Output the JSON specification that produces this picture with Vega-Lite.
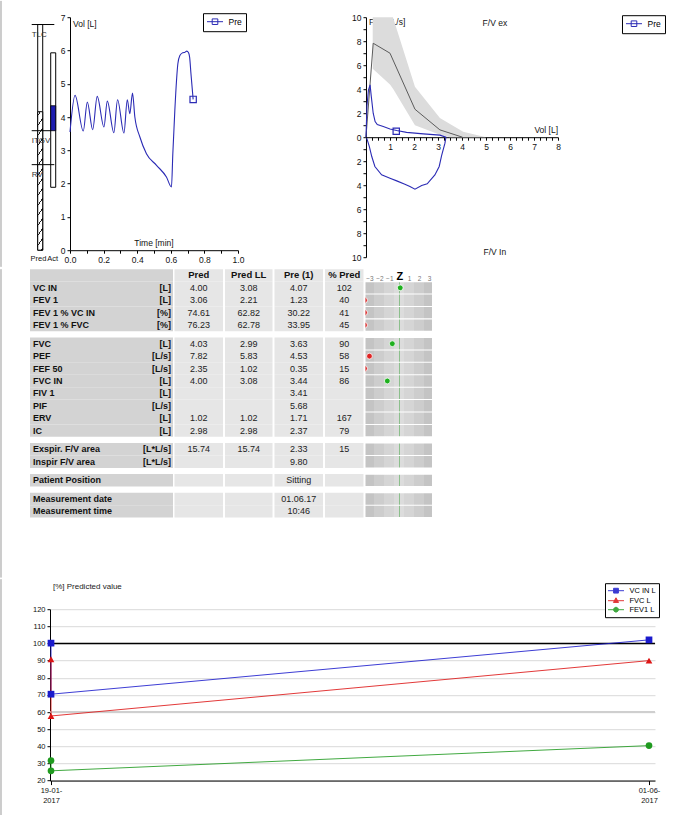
{
"$schema": "https://vega.github.io/schema/vega-lite/v6.json",
"background": "white",
"padding": {"left": 0, "top": 0.2, "right": 5, "bottom": 0},
"config": {
  "font": "Liberation Sans",
  "view": {"stroke": null},
  "axis": {"labelFont": "Liberation Sans", "labelFontSize": 8, "labelColor": "#111", "domainColor": "#000", "tickColor": "#000", "tickSize": 3, "labelPadding": 2, "grid": false, "title": null, "labelFlush": false, "labelOverlap": false},
  "legend": {"labelFont": "Liberation Sans", "labelLimit": 200},
  "text": {"font": "Liberation Sans"}
},
"datasets": {
  "vt": [{"t":0,"v":3.55},{"t":0.03,"v":4.65},{"t":0.079,"v":3.58},{"t":0.103,"v":4.45},{"t":0.135,"v":3.62},{"t":0.162,"v":4.62},{"t":0.202,"v":3.7},{"t":0.222,"v":4.48},{"t":0.261,"v":3.53},{"t":0.283,"v":4.52},{"t":0.321,"v":3.52},{"t":0.341,"v":4.52},{"t":0.356,"v":4.1},{"t":0.372,"v":4.72},{"t":0.386,"v":4.0},{"t":0.416,"v":3.4},{"t":0.455,"v":2.9},{"t":0.515,"v":2.55},{"t":0.574,"v":2.2},{"t":0.604,"v":1.9},{"t":0.612,"v":2.9},{"t":0.624,"v":4.2},{"t":0.634,"v":5.1},{"t":0.642,"v":5.6},{"t":0.654,"v":5.85},{"t":0.67,"v":5.93},{"t":0.685,"v":5.95},{"t":0.695,"v":5.98},{"t":0.705,"v":5.94},{"t":0.712,"v":5.8},{"t":0.72,"v":5.3},{"t":0.733,"v":4.53}],
  "fvLoop": [{"i":0,"vol":0,"flow":0},{"i":1,"vol":0.04,"flow":2.6},{"i":2,"vol":0.1,"flow":3.9},{"i":3,"vol":0.17,"flow":4.36},{"i":4,"vol":0.22,"flow":3.4},{"i":5,"vol":0.3,"flow":2.0},{"i":6,"vol":0.38,"flow":1.3},{"i":7,"vol":0.47,"flow":1.05},{"i":8,"vol":0.72,"flow":0.89},{"i":9,"vol":1.0,"flow":0.69},{"i":10,"vol":1.28,"flow":0.56},{"i":11,"vol":1.69,"flow":0.4},{"i":12,"vol":2.39,"flow":0.28},{"i":13,"vol":3.08,"flow":0.17},{"i":14,"vol":3.33,"flow":0},{"i":15,"vol":3.29,"flow":-0.5},{"i":16,"vol":3.15,"flow":-1.53},{"i":17,"vol":3.05,"flow":-2.44},{"i":18,"vol":2.87,"flow":-3.14},{"i":19,"vol":2.55,"flow":-3.89},{"i":20,"vol":2.32,"flow":-4.03},{"i":21,"vol":2.04,"flow":-4.33},{"i":22,"vol":1.83,"flow":-4.11},{"i":23,"vol":1.62,"flow":-3.92},{"i":24,"vol":1.28,"flow":-3.64},{"i":25,"vol":1.0,"flow":-3.42},{"i":26,"vol":0.65,"flow":-3.14},{"i":27,"vol":0.37,"flow":-2.44},{"i":28,"vol":0.24,"flow":-1.61},{"i":29,"vol":0.14,"flow":-0.78},{"i":30,"vol":0.03,"flow":-0.08}],
  "fvPred": [{"vol":0,"flow":0},{"vol":0.3,"flow":7.83},{"vol":1.0,"flow":7.0},{"vol":2.04,"flow":2.33},{"vol":3.08,"flow":0.61},{"vol":4.02,"flow":0}],
  "fvBand": [{"vol":0.28,"lo":5.7,"hi":12},{"vol":1.0,"lo":4.4,"hi":10.8},{"vol":1.14,"lo":4.0,"hi":9.9},{"vol":2.04,"lo":1.0,"hi":4.2},{"vol":3.08,"lo":0.2,"hi":1.6},{"vol":3.5,"lo":0,"hi":1.1},{"vol":4.05,"lo":0,"hi":0.45},{"vol":5.0,"lo":0,"hi":0}],
  "table": [
    {"kind":"header","name":"","unit":"","pred":"Pred","ll":"Pred LL","pre":"Pre (1)","pct":"% Pred","row":-1},
    {"kind":"data","name":"VC IN","unit":"[L]","pred":"4.00","ll":"3.08","pre":"4.07","pct":"102","z":0.1,"status":"ok","row":0},
    {"kind":"data","name":"FEV 1","unit":"[L]","pred":"3.06","ll":"2.21","pre":"1.23","pct":"40","z":-3.5,"status":"low","row":1},
    {"kind":"data","name":"FEV 1 % VC IN","unit":"[%]","pred":"74.61","ll":"62.82","pre":"30.22","pct":"41","z":-3.5,"status":"low","row":2},
    {"kind":"data","name":"FEV 1 % FVC","unit":"[%]","pred":"76.23","ll":"62.78","pre":"33.95","pct":"45","z":-3.5,"status":"low","row":3},
    {"kind":"data","name":"FVC","unit":"[L]","pred":"4.03","ll":"2.99","pre":"3.63","pct":"90","z":-0.7,"status":"ok","row":4.5},
    {"kind":"data","name":"PEF","unit":"[L/s]","pred":"7.82","ll":"5.83","pre":"4.53","pct":"58","z":-3.0,"status":"low","row":5.5},
    {"kind":"data","name":"FEF 50","unit":"[L/s]","pred":"2.35","ll":"1.02","pre":"0.35","pct":"15","z":-3.5,"status":"low","row":6.5},
    {"kind":"data","name":"FVC IN","unit":"[L]","pred":"4.00","ll":"3.08","pre":"3.44","pct":"86","z":-1.2,"status":"ok","row":7.5},
    {"kind":"data","name":"FIV 1","unit":"[L]","pred":"","ll":"","pre":"3.41","pct":"","z":null,"row":8.5},
    {"kind":"data","name":"PIF","unit":"[L/s]","pred":"","ll":"","pre":"5.68","pct":"","z":null,"row":9.5},
    {"kind":"data","name":"ERV","unit":"[L]","pred":"1.02","ll":"1.02","pre":"1.71","pct":"167","z":null,"row":10.5},
    {"kind":"data","name":"IC","unit":"[L]","pred":"2.98","ll":"2.98","pre":"2.37","pct":"79","z":null,"row":11.5},
    {"kind":"data","name":"Exspir. F/V area","unit":"[L*L/s]","pred":"15.74","ll":"15.74","pre":"2.33","pct":"15","z":null,"row":13},
    {"kind":"data","name":"Inspir F/V area","unit":"[L*L/s]","pred":"","ll":"","pre":"9.80","pct":"","z":null,"row":14},
    {"kind":"data","name":"Patient Position","unit":"","pred":"","ll":"","pre":"Sitting","pct":"","z":null,"row":15.5},
    {"kind":"data","name":"Measurement date","unit":"","pred":"","ll":"","pre":"01.06.17","pct":"","z":null,"row":17},
    {"kind":"data","name":"Measurement time","unit":"","pred":"","ll":"","pre":"10:46","pct":"","z":null,"row":18}
  ],
  "trend": [
    {"series":"VC IN L","date":"2017-01-19T00:00:00Z","value":100.2,"order":0},
    {"series":"VC IN L","date":"2017-01-19T00:00:00Z","value":70.4,"order":1},
    {"series":"VC IN L","date":"2017-06-01T00:00:00Z","value":102.1,"order":2},
    {"series":"FVC L","date":"2017-01-19T00:00:00Z","value":90.8,"order":0},
    {"series":"FVC L","date":"2017-01-19T00:00:00Z","value":57.7,"order":1},
    {"series":"FVC L","date":"2017-06-01T00:00:00Z","value":90.0,"order":2},
    {"series":"FEV1 L","date":"2017-01-19T00:00:00Z","value":31.7,"order":0},
    {"series":"FEV1 L","date":"2017-01-19T00:00:00Z","value":25.7,"order":1},
    {"series":"FEV1 L","date":"2017-06-01T00:00:00Z","value":40.4,"order":2}
  ]
},
"spacing": 0,
"bounds": "full",
"resolve": {"scale": {"color": "independent", "fill": "independent", "stroke": "independent", "shape": "independent"}, "legend": {"color": "independent"}},
"vconcat": [
  {
    "spacing": 0,
    "bounds": "full",
    "resolve": {"scale": {"color": "independent", "fill": "independent", "stroke": "independent", "shape": "independent"}, "legend": {"color": "independent"}},
    "vconcat": [
      {
        "spacing": 0,
        "bounds": "flush",
        "resolve": {"scale": {"color": "independent", "fill": "independent", "stroke": "independent", "shape": "independent"}, "legend": {"color": "independent"}},
        "hconcat": [
          {
            "width": 40, "height": 233,
            "layer": [
              {"data": {"values": [{}]},
               "mark": {"type": "rule", "color": "#9a9a9a", "strokeWidth": 1},
               "encoding": {"x": {"datum": -29, "type": "quantitative", "scale": {"domain": [0, 40], "nice": false, "zero": false, "padding": 0}, "axis": null}, "y": {"datum": -0.5, "type": "quantitative", "scale": {"domain": [0, 7], "nice": false, "zero": false, "padding": 0}, "axis": null}, "y2": {"datum": 7.49}}},
              {"data": {"values": [{"lo": 0, "hi": 6.78}]},
               "mark": {"type": "rect", "fill": "white", "stroke": "#000", "strokeWidth": 1},
               "encoding": {"x": {"datum": 7.7}, "x2": {"datum": 12.7}, "y": {"field": "lo", "type": "quantitative"}, "y2": {"field": "hi"}}},
              {"data": {"values": [{"lo": 0, "hi": 4.16}]},
               "mark": {"type": "rect", "stroke": "#000", "strokeWidth": 1, "fill": {"gradient": "linear", "x1": 0, "y1": 0, "x2": 0.0535, "y2": 1.06, "stops": [
                 {"offset": 0, "color": "#fff"},
                 {"offset": 0.020, "color": "#fff"},{"offset": 0.020, "color": "#222"},{"offset": 0.031, "color": "#222"},{"offset": 0.031, "color": "#fff"},
                 {"offset": 0.088, "color": "#fff"},{"offset": 0.088, "color": "#222"},{"offset": 0.099, "color": "#222"},{"offset": 0.099, "color": "#fff"},
                 {"offset": 0.156, "color": "#fff"},{"offset": 0.156, "color": "#222"},{"offset": 0.167, "color": "#222"},{"offset": 0.167, "color": "#fff"},
                 {"offset": 0.224, "color": "#fff"},{"offset": 0.224, "color": "#222"},{"offset": 0.235, "color": "#222"},{"offset": 0.235, "color": "#fff"},
                 {"offset": 0.292, "color": "#fff"},{"offset": 0.292, "color": "#222"},{"offset": 0.303, "color": "#222"},{"offset": 0.303, "color": "#fff"},
                 {"offset": 0.360, "color": "#fff"},{"offset": 0.360, "color": "#222"},{"offset": 0.371, "color": "#222"},{"offset": 0.371, "color": "#fff"},
                 {"offset": 0.428, "color": "#fff"},{"offset": 0.428, "color": "#222"},{"offset": 0.439, "color": "#222"},{"offset": 0.439, "color": "#fff"},
                 {"offset": 0.496, "color": "#fff"},{"offset": 0.496, "color": "#222"},{"offset": 0.507, "color": "#222"},{"offset": 0.507, "color": "#fff"},
                 {"offset": 0.564, "color": "#fff"},{"offset": 0.564, "color": "#222"},{"offset": 0.575, "color": "#222"},{"offset": 0.575, "color": "#fff"},
                 {"offset": 0.632, "color": "#fff"},{"offset": 0.632, "color": "#222"},{"offset": 0.643, "color": "#222"},{"offset": 0.643, "color": "#fff"},
                 {"offset": 0.700, "color": "#fff"},{"offset": 0.700, "color": "#222"},{"offset": 0.711, "color": "#222"},{"offset": 0.711, "color": "#fff"},
                 {"offset": 0.768, "color": "#fff"},{"offset": 0.768, "color": "#222"},{"offset": 0.779, "color": "#222"},{"offset": 0.779, "color": "#fff"},
                 {"offset": 0.836, "color": "#fff"},{"offset": 0.836, "color": "#222"},{"offset": 0.847, "color": "#222"},{"offset": 0.847, "color": "#fff"},
                 {"offset": 0.904, "color": "#fff"},{"offset": 0.904, "color": "#222"},{"offset": 0.915, "color": "#222"},{"offset": 0.915, "color": "#fff"},
                 {"offset": 0.972, "color": "#fff"},{"offset": 0.972, "color": "#222"},{"offset": 0.983, "color": "#222"},{"offset": 0.983, "color": "#fff"},
                 {"offset": 1, "color": "#fff"}]}},
               "encoding": {"x": {"datum": 7.7}, "x2": {"datum": 12.7}, "y": {"field": "lo", "type": "quantitative"}, "y2": {"field": "hi"}}},
              {"data": {"values": [{"lo": 1.89, "hi": 5.93}]},
               "mark": {"type": "rect", "fill": "white", "stroke": "#000", "strokeWidth": 1},
               "encoding": {"x": {"datum": 20.7}, "x2": {"datum": 25.7}, "y": {"field": "lo", "type": "quantitative"}, "y2": {"field": "hi"}}},
              {"data": {"values": [{"lo": 3.59, "hi": 4.34}]},
               "mark": {"type": "rect", "fill": "#1c1cb0", "stroke": "#000", "strokeWidth": 0.8},
               "encoding": {"x": {"datum": 20.7}, "x2": {"datum": 25.7}, "y": {"field": "lo", "type": "quantitative"}, "y2": {"field": "hi"}}},
              {"data": {"values": [{"item": "TLC", "value": 6.78}, {"item": "RV", "value": 2.57}]},
               "mark": {"type": "rule", "color": "#000", "strokeWidth": 1},
               "encoding": {"x": {"datum": 1.7}, "x2": {"datum": 24.3}, "y": {"field": "value", "type": "quantitative"}}},
              {"data": {"values": [{"item": "ITGV", "value": 3.59}]},
               "mark": {"type": "rule", "color": "#000", "strokeWidth": 1},
               "encoding": {"x": {"datum": 1.7}, "x2": {"datum": 20.7}, "y": {"field": "value", "type": "quantitative"}}},
              {"data": {"values": [{"item": "TLC", "value": 6.78}, {"item": "ITGV", "value": 3.59}, {"item": "RV", "value": 2.57}]},
               "mark": {"type": "text", "align": "left", "baseline": "middle", "dy": 10, "fontSize": 8, "color": "#333"},
               "encoding": {"x": {"datum": 1.7}, "y": {"field": "value", "type": "quantitative"}, "text": {"field": "item"}}},
              {"data": {"values": [{"label": "Pred"}]},
               "mark": {"type": "text", "align": "left", "baseline": "middle", "dy": 9, "fontSize": 7.5, "color": "#111"},
               "encoding": {"x": {"datum": 0.5}, "y": {"datum": 0}, "text": {"field": "label"}}},
              {"data": {"values": [{"label": "Act"}]},
               "mark": {"type": "text", "align": "left", "baseline": "middle", "dy": 9, "fontSize": 7.5, "color": "#111"},
               "encoding": {"x": {"datum": 17.3}, "y": {"datum": 0}, "text": {"field": "label"}}}
            ]
          },
          {
            "width": 168, "height": 233,
            "layer": [
              {"data": {"name": "vt"},
               "mark": {"type": "line", "interpolate": "monotone", "strokeWidth": 1.1},
               "encoding": {
                 "x": {"field": "t", "type": "quantitative", "scale": {"domain": [0, 1], "nice": false, "zero": false},
                       "axis": {"values": [0,0.1,0.2,0.3,0.4,0.5,0.6,0.7,0.8,0.9,1], "tickCount": 1000, "labelExpr": "round(datum.value*10) % 2 == 0 ? format(datum.value, '.1f') : ''", "labelFontSize": 8.5, "labelOverlap": false}},
                 "y": {"field": "v", "type": "quantitative", "scale": {"domain": [0, 7], "nice": false, "zero": false},
                       "axis": {"values": [0,1,2,3,4,5,6,7], "tickCount": 1000, "format": "d", "labelFontSize": 8.5, "labelOverlap": false}},
                 "color": {"datum": "Pre", "type": "nominal", "scale": {"domain": ["Pre"], "range": ["#2b2bb5"]},
                           "legend": {"orient": "none", "legendX": 133, "legendY": -4, "title": null, "symbolType": "M-2,0H2M-0.7,-0.7H0.7V0.7H-0.7Z", "symbolSize": 64, "symbolStrokeWidth": 1, "symbolOffset": 3.5, "strokeColor": "#000", "fillColor": "white", "padding": 4, "labelFontSize": 8.5, "labelColor": "#000", "labelOffset": 9}}
               }},
              {"data": {"values": [{"t": 0.733, "v": 4.53}]},
               "mark": {"type": "point", "shape": "square", "size": 40, "filled": false, "color": "#2b2bb5", "strokeWidth": 1.2, "opacity": 1},
               "encoding": {"x": {"field": "t", "type": "quantitative"}, "y": {"field": "v", "type": "quantitative"}}},
              {"data": {"values": [{"label": "Vol [L]"}]},
               "mark": {"type": "text", "align": "left", "baseline": "middle", "dx": 3, "dy": 7, "fontSize": 8.5, "color": "#111"},
               "encoding": {"x": {"datum": 0}, "y": {"datum": 7}, "text": {"field": "label"}}},
              {"data": {"values": [{"label": "Time [min]"}]},
               "mark": {"type": "text", "align": "center", "baseline": "middle", "dy": -7, "fontSize": 8.5, "color": "#111"},
               "encoding": {"x": {"datum": 0.5}, "y": {"datum": 0}, "text": {"field": "label"}}}
            ]
          },
          {"width": 128, "height": 1, "data": {"values": []}, "mark": "text", "encoding": {}},
          {
            "width": 192, "height": 240,
            "layer": [
              {"data": {"values": [{"label": "Flow [L/s]"}]},
               "mark": {"type": "text", "align": "left", "baseline": "middle", "dx": 3, "dy": 5, "fontSize": 8.5, "color": "#111"},
               "encoding": {"x": {"datum": 0}, "y": {"datum": 10}, "text": {"field": "label"}}},
              {"data": {"name": "fvBand"},
               "mark": {"type": "area", "color": "#dcdcdc", "clip": true},
               "encoding": {
                 "x": {"field": "vol", "type": "quantitative", "scale": {"domain": [0, 8], "nice": false, "zero": false},
                       "axis": {"orient": "bottom", "offset": -120, "values": [0,0.25,0.5,0.75,1,1.25,1.5,1.75,2,2.25,2.5,2.75,3,3.25,3.5,3.75,4,4.25,4.5,4.75,5,5.25,5.5,5.75,6,6.25,6.5,6.75,7,7.25,7.5,7.75,8], "tickCount": 1000, "labelExpr": "datum.value >= 1 && abs(datum.value - round(datum.value)) < 0.01 ? format(datum.value, 'd') : ''", "labelFontSize": 8.5, "labelOverlap": false}},
                 "y": {"field": "lo", "type": "quantitative", "scale": {"domain": [-10, 10], "nice": false, "zero": false},
                       "axis": {"values": [-10,-9,-8,-7,-6,-5,-4,-3,-2,-1,0,1,2,3,4,5,6,7,8,9,10], "tickCount": 1000, "labelExpr": "datum.value % 2 == 0 ? format(abs(datum.value), 'd') : ''", "labelFontSize": 8.5, "labelOverlap": false}},
                 "y2": {"field": "hi"}
               }},
              {"data": {"name": "fvPred"},
               "mark": {"type": "line", "color": "#5a5a5a", "strokeWidth": 1},
               "encoding": {"x": {"field": "vol", "type": "quantitative"}, "y": {"field": "flow", "type": "quantitative"}}},
              {"data": {"name": "fvLoop"},
               "mark": {"type": "line", "strokeWidth": 1.1},
               "encoding": {"x": {"field": "vol", "type": "quantitative"}, "y": {"field": "flow", "type": "quantitative"}, "order": {"field": "i"},
                 "color": {"datum": "Pre", "type": "nominal", "scale": {"domain": ["Pre"], "range": ["#2b2bb5"]},
                           "legend": {"orient": "none", "legendX": 256, "legendY": -2, "title": null, "symbolType": "M-2,0H2M-0.7,-0.7H0.7V0.7H-0.7Z", "symbolSize": 64, "symbolStrokeWidth": 1, "symbolOffset": 3.5, "strokeColor": "#000", "fillColor": "white", "padding": 4, "labelFontSize": 8.5, "labelColor": "#000", "labelOffset": 9}}}},
              {"data": {"values": [{"vol": 1.26, "flow": 0.5}]},
               "mark": {"type": "point", "shape": "square", "size": 40, "filled": false, "color": "#2b2bb5", "strokeWidth": 1.2, "opacity": 1},
               "encoding": {"x": {"field": "vol", "type": "quantitative"}, "y": {"field": "flow", "type": "quantitative"}}},
              {"data": {"values": [{"label": "F/V ex"}]},
               "mark": {"type": "text", "align": "center", "baseline": "middle", "dy": 6, "fontSize": 8.5, "color": "#111"},
               "encoding": {"x": {"datum": 5.37}, "y": {"datum": 10}, "text": {"field": "label"}}},
              {"data": {"values": [{"label": "F/V In"}]},
               "mark": {"type": "text", "align": "center", "baseline": "middle", "dy": -5, "fontSize": 8.5, "color": "#111"},
               "encoding": {"x": {"datum": 5.37}, "y": {"datum": -10}, "text": {"field": "label"}}},
              {"data": {"values": [{"label": "Vol [L]"}]},
               "mark": {"type": "text", "align": "right", "baseline": "middle", "dy": -7, "fontSize": 8.5, "color": "#111"},
               "encoding": {"x": {"datum": 8}, "y": {"datum": 0}, "text": {"field": "label"}}}
            ]
          }
        ]
      },
      {
        "spacing": 1.5,
        "bounds": "flush",
        "hconcat": [
          {
            "width": 143, "height": 248.4, "data": {"name": "table"},
            "layer": [
              {"mark": {"type": "bar", "color": "#d3d3d3", "size": 12.42},
               "encoding": {"x": {"datum": 0, "type": "quantitative", "scale": {"domain": [0, 1], "nice": false, "zero": false, "padding": 0}, "axis": null}, "x2": {"datum": 1},
                            "y": {"field": "row", "type": "quantitative", "scale": {"domain": [-1.5, 18.5], "reverse": true, "nice": false, "zero": false, "padding": 0}, "axis": null}}},
              {"data": {"values": [{}]},
               "mark": {"type": "rule", "color": "#9a9a9a", "strokeWidth": 1},
               "encoding": {"x": {"datum": -0.2028}, "y": {"datum": -1.5}, "y2": {"datum": 23.33}}},
              {"transform": [{"filter": "datum.kind == 'data'"}],
               "mark": {"type": "text", "align": "left", "baseline": "middle", "dx": 3, "fontSize": 9, "fontWeight": "bold", "color": "#111"},
               "encoding": {"x": {"datum": 0}, "y": {"field": "row", "type": "quantitative"}, "text": {"field": "name"}}},
              {"transform": [{"filter": "datum.kind == 'data'"}],
               "mark": {"type": "text", "align": "right", "baseline": "middle", "dx": -2, "fontSize": 9, "fontWeight": "bold", "color": "#111"},
               "encoding": {"x": {"datum": 1}, "y": {"field": "row", "type": "quantitative"}, "text": {"field": "unit"}}}
            ]
          },
          {
            "width": 48.5, "height": 248.4, "data": {"name": "table"},
            "layer": [
              {"mark": {"type": "bar", "color": "#e6e6e6", "size": 12.42},
               "encoding": {"x": {"datum": 0, "type": "quantitative", "scale": {"domain": [0, 1], "nice": false, "zero": false, "padding": 0}, "axis": null}, "x2": {"datum": 1},
                            "y": {"field": "row", "type": "quantitative", "scale": {"domain": [-1.5, 18.5], "reverse": true, "nice": false, "zero": false, "padding": 0}, "axis": null}}},
              {"transform": [{"filter": "datum.kind == 'data'"}],
               "mark": {"type": "text", "align": "center", "baseline": "middle", "fontSize": 9, "color": "#222"},
               "encoding": {"x": {"datum": 0.5}, "y": {"field": "row", "type": "quantitative"}, "text": {"field": "pred"}}},
              {"transform": [{"filter": "datum.kind == 'header'"}],
               "mark": {"type": "text", "align": "center", "baseline": "middle", "fontSize": 9.5, "fontWeight": "bold", "color": "#111"},
               "encoding": {"x": {"datum": 0.5}, "y": {"field": "row", "type": "quantitative"}, "text": {"field": "pred"}}}
            ]
          },
          {
            "width": 47.5, "height": 248.4, "data": {"name": "table"},
            "layer": [
              {"mark": {"type": "bar", "color": "#e6e6e6", "size": 12.42},
               "encoding": {"x": {"datum": 0, "type": "quantitative", "scale": {"domain": [0, 1], "nice": false, "zero": false, "padding": 0}, "axis": null}, "x2": {"datum": 1},
                            "y": {"field": "row", "type": "quantitative", "scale": {"domain": [-1.5, 18.5], "reverse": true, "nice": false, "zero": false, "padding": 0}, "axis": null}}},
              {"transform": [{"filter": "datum.kind == 'data'"}],
               "mark": {"type": "text", "align": "center", "baseline": "middle", "fontSize": 9, "color": "#222"},
               "encoding": {"x": {"datum": 0.5}, "y": {"field": "row", "type": "quantitative"}, "text": {"field": "ll"}}},
              {"transform": [{"filter": "datum.kind == 'header'"}],
               "mark": {"type": "text", "align": "center", "baseline": "middle", "fontSize": 9.5, "fontWeight": "bold", "color": "#111"},
               "encoding": {"x": {"datum": 0.5}, "y": {"field": "row", "type": "quantitative"}, "text": {"field": "ll"}}}
            ]
          },
          {
            "width": 48.5, "height": 248.4, "data": {"name": "table"},
            "layer": [
              {"mark": {"type": "bar", "color": "#e6e6e6", "size": 12.42},
               "encoding": {"x": {"datum": 0, "type": "quantitative", "scale": {"domain": [0, 1], "nice": false, "zero": false, "padding": 0}, "axis": null}, "x2": {"datum": 1},
                            "y": {"field": "row", "type": "quantitative", "scale": {"domain": [-1.5, 18.5], "reverse": true, "nice": false, "zero": false, "padding": 0}, "axis": null}}},
              {"transform": [{"filter": "datum.kind == 'data'"}],
               "mark": {"type": "text", "align": "center", "baseline": "middle", "fontSize": 9, "color": "#222"},
               "encoding": {"x": {"datum": 0.5}, "y": {"field": "row", "type": "quantitative"}, "text": {"field": "pre"}}},
              {"transform": [{"filter": "datum.kind == 'header'"}],
               "mark": {"type": "text", "align": "center", "baseline": "middle", "fontSize": 9.5, "fontWeight": "bold", "color": "#111"},
               "encoding": {"x": {"datum": 0.5}, "y": {"field": "row", "type": "quantitative"}, "text": {"field": "pre"}}}
            ]
          },
          {
            "width": 38.5, "height": 248.4, "data": {"name": "table"},
            "layer": [
              {"mark": {"type": "bar", "color": "#e6e6e6", "size": 12.42},
               "encoding": {"x": {"datum": 0, "type": "quantitative", "scale": {"domain": [0, 1], "nice": false, "zero": false, "padding": 0}, "axis": null}, "x2": {"datum": 1},
                            "y": {"field": "row", "type": "quantitative", "scale": {"domain": [-1.5, 18.5], "reverse": true, "nice": false, "zero": false, "padding": 0}, "axis": null}}},
              {"transform": [{"filter": "datum.kind == 'data'"}],
               "mark": {"type": "text", "align": "center", "baseline": "middle", "fontSize": 9, "color": "#222"},
               "encoding": {"x": {"datum": 0.5}, "y": {"field": "row", "type": "quantitative"}, "text": {"field": "pct"}}},
              {"transform": [{"filter": "datum.kind == 'header'"}],
               "mark": {"type": "text", "align": "center", "baseline": "middle", "fontSize": 9.5, "fontWeight": "bold", "color": "#111"},
               "encoding": {"x": {"datum": 0.5}, "y": {"field": "row", "type": "quantitative"}, "text": {"field": "pct"}}}
            ]
          },
          {
            "width": 66.5, "height": 248.4, "data": {"name": "table"},
            "layer": [
              {"transform": [{"filter": "datum.kind == 'data'"}],
               "mark": {"type": "bar", "size": 11.4, "fill": {"gradient": "linear", "x1": 0, "y1": 0, "x2": 1, "y2": 0, "stops": [
                 {"offset": 0, "color": "#c4c4c4"},{"offset": 0.134, "color": "#c4c4c4"},
                 {"offset": 0.134, "color": "#cdcdcd"},{"offset": 0.284, "color": "#cdcdcd"},
                 {"offset": 0.284, "color": "#d5d5d5"},{"offset": 0.433, "color": "#d5d5d5"},
                 {"offset": 0.433, "color": "#dcdcdc"},{"offset": 0.497, "color": "#dcdcdc"},
                 {"offset": 0.497, "color": "#8cbf8c"},{"offset": 0.517, "color": "#8cbf8c"},
                 {"offset": 0.517, "color": "#dcdcdc"},{"offset": 0.582, "color": "#dcdcdc"},
                 {"offset": 0.582, "color": "#d5d5d5"},{"offset": 0.731, "color": "#d5d5d5"},
                 {"offset": 0.731, "color": "#cdcdcd"},{"offset": 0.881, "color": "#cdcdcd"},
                 {"offset": 0.881, "color": "#c4c4c4"},{"offset": 1, "color": "#c4c4c4"}]}},
               "encoding": {"x": {"datum": -3.4}, "x2": {"datum": 3.3},
                            "y": {"field": "row", "type": "quantitative", "scale": {"domain": [-1.5, 18.5], "reverse": true, "nice": false, "zero": false, "padding": 0}, "axis": null}}},
              {"transform": [{"filter": "datum.kind == 'data' && isValid(datum.z)"}],
               "mark": {"type": "point", "filled": true, "size": 34, "stroke": "white", "strokeWidth": 0.8, "opacity": 1, "clip": true},
               "encoding": {
                 "x": {"field": "z", "type": "quantitative", "scale": {"domain": [-3.4, 3.3], "nice": false, "zero": false, "padding": 0},
                       "axis": {"orient": "top", "offset": -12, "values": [-3,-2,-1,0,1,2,3], "tickCount": 1000, "labelExpr": "datum.value == 0 ? 'Z' : format(datum.value, 'd')", "domain": false, "ticks": false, "labelPadding": 0, "labelBaseline": "bottom", "labelOverlap": false, "labelBound": false,
                                "labelFontSize": {"condition": {"test": "datum.value == 0", "value": 11}, "value": 6.5},
                                "labelFontWeight": {"condition": {"test": "datum.value == 0", "value": "bold"}, "value": "normal"},
                                "labelColor": {"condition": {"test": "datum.value == 0", "value": "#000"}, "value": "#777"}}},
                 "y": {"field": "row", "type": "quantitative"},
                 "fill": {"field": "status", "type": "nominal", "scale": {"domain": ["ok", "low"], "range": ["#1fb01f", "#e02424"]}, "legend": null}
               }}
            ]
          }
        ]
      }
    ]
  },
  {
    "spacing": 0,
    "bounds": "flush",
    "resolve": {"scale": {"color": "independent"}, "legend": {"color": "independent"}},
    "hconcat": [
      {"width": 20, "height": 1, "data": {"values": [{}]},
       "mark": {"type": "rule", "color": "#9a9a9a", "strokeWidth": 1},
       "encoding": {"x": {"datum": -29, "type": "quantitative", "scale": {"domain": [0, 20], "nice": false, "zero": false, "padding": 0}, "axis": null},
                    "y": {"datum": -205, "type": "quantitative", "scale": {"domain": [0, 1], "nice": false, "zero": false, "padding": 0}, "axis": null}, "y2": {"datum": 31}}},
      {
        "width": 605, "height": 171.4,
        "layer": [
          {"data": {"values": [{}]},
           "mark": {"type": "rule", "color": "#cfcfcf", "strokeWidth": 2},
           "encoding": {"y": {"datum": 60}}},
          {"data": {"values": [{}]},
           "mark": {"type": "rule", "color": "#000", "strokeWidth": 1.5},
           "encoding": {"y": {"datum": 100}}},
          {"data": {"name": "trend"},
           "mark": {"type": "line", "strokeWidth": 1, "opacity": 0.85},
           "encoding": {
             "x": {"field": "date", "type": "temporal",
                   "scale": {"type": "utc", "domain": [{"year": 2017, "month": 1, "date": 18, "hours": 18, "minutes": 40, "utc": true}, {"year": 2017, "month": 6, "date": 2, "hours": 8, "utc": true}]},
                   "axis": {"values": [{"year": 2017, "month": 1, "date": 19, "utc": true}, {"year": 2017, "month": 6, "date": 1, "utc": true}], "tickCount": 1000, "labelExpr": "[utcFormat(datum.value, '%d-%m-'), utcFormat(datum.value, '%Y')]", "tickSize": 4, "labelFontSize": 7.5, "labelLineHeight": 9.5, "labelOverlap": false}},
             "y": {"field": "value", "type": "quantitative", "scale": {"domain": [20, 120], "nice": false, "zero": false},
                   "axis": {"values": [20,30,40,50,60,70,80,90,100,110,120], "tickCount": 1000, "format": "d", "grid": true, "gridColor": "#d9d9d9", "gridWidth": 1, "labelFontSize": 7.5, "labelOverlap": false}},
             "color": {"field": "series", "type": "nominal", "scale": {"domain": ["VC IN L", "FVC L", "FEV1 L"], "range": ["#1a1acc", "#dd1515", "#1f9a1f"]},
                       "legend": {"orient": "none", "legendX": 555, "legendY": -26, "title": null, "strokeColor": "#000", "fillColor": "white", "padding": 3, "labelFontSize": 7.5, "labelColor": "#000", "symbolSize": 64, "symbolOffset": 3.5, "rowPadding": 0, "labelOffset": 9, "symbolStrokeWidth": 1,
                                  "symbolType": {"expr": "datum.value === 'VC IN L' ? 'M-2,0H2M-0.6,-0.6H0.6V0.6H-0.6Z' : datum.value === 'FVC L' ? 'M-2,0H2M0,-0.72L0.64,0.44L-0.64,0.44Z' : 'M-2,0H2M0.6,0A0.6,0.6,0,1,1,-0.6,0A0.6,0.6,0,1,1,0.6,0Z'"},
                                  "symbolFillColor": {"expr": "datum.value === 'VC IN L' ? '#1a1acc' : datum.value === 'FVC L' ? '#dd1515' : '#1f9a1f'"},
                                  "symbolStrokeColor": {"expr": "datum.value === 'VC IN L' ? '#1a1acc' : datum.value === 'FVC L' ? '#dd1515' : '#1f9a1f'"}}},
             "order": {"field": "order"}
           }},
          {"data": {"name": "trend"}, "transform": [{"filter": "datum.series == 'VC IN L'"}],
           "mark": {"type": "point", "shape": "square", "filled": true, "size": 45, "opacity": 1, "color": "#1a1acc"},
           "encoding": {"x": {"field": "date", "type": "temporal"}, "y": {"field": "value", "type": "quantitative"}}},
          {"data": {"name": "trend"}, "transform": [{"filter": "datum.series == 'FVC L'"}],
           "mark": {"type": "point", "shape": "triangle-up", "filled": true, "size": 45, "opacity": 1, "color": "#dd1515"},
           "encoding": {"x": {"field": "date", "type": "temporal"}, "y": {"field": "value", "type": "quantitative"}}},
          {"data": {"name": "trend"}, "transform": [{"filter": "datum.series == 'FEV1 L'"}],
           "mark": {"type": "point", "shape": "circle", "filled": true, "size": 45, "opacity": 1, "color": "#1f9a1f"},
           "encoding": {"x": {"field": "date", "type": "temporal"}, "y": {"field": "value", "type": "quantitative"}}},
          {"data": {"values": [{"label": "[%] Predicted value"}]},
           "mark": {"type": "text", "align": "left", "baseline": "middle", "dx": 2, "dy": -22, "fontSize": 8, "color": "#222"},
           "encoding": {"x": {"datum": {"year": 2017, "month": 1, "date": 19, "utc": true}, "type": "temporal"}, "y": {"datum": 120}, "text": {"field": "label"}}}
        ]
      }
    ]
  }
]
}
